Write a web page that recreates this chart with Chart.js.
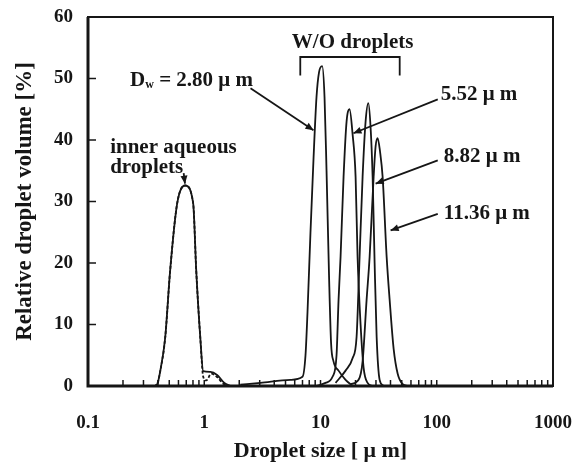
<!DOCTYPE html>
<html>
<head>
<meta charset="utf-8">
<script src="https://cdn.jsdelivr.net/npm/chart.js@4.4.1/dist/chart.umd.min.js"></script>
<style>
  html, body { margin: 0; padding: 0; background: #fff; }
  #box { width: 580px; height: 466px; }
</style>
</head>
<body>
<div id="box"><canvas id="grafico" width="580" height="466"></canvas></div>
<script>
// Droplet size [um] and relative droplet volume [%]

// inner aqueous droplets (solid and dashed trace)
const innerX = [0.37, 0.394, 0.418, 0.461, 0.509, 0.585, 0.685, 0.803, 0.853, 0.925, 0.98, 1.13, 1.29, 1.49, 1.68];
const innerY = [0, 0.3, 2.4, 7.8, 18.8, 29.7, 32.6, 29.7, 18.8, 7.8, 2.4, 2.3, 1.8, 0.5, 0];
const innerDashX = [0.37, 0.394, 0.418, 0.461, 0.509, 0.585, 0.685, 0.803, 0.853, 0.925, 0.98, 1.04, 1.15, 1.3, 1.45, 1.62];
const innerDashY = [0, 0.3, 2.4, 7.8, 18.8, 29.7, 32.6, 29.7, 18.8, 7.8, 1.5, 0.9, 2.0, 1.4, 0.4, 0];

// W/O droplets, Dw = 2.80 um
const w280X = [2.04, 3.04, 5.51, 7.0, 7.43, 7.73, 8.2, 8.71, 9.24, 9.71, 10.34, 10.83, 11.27, 11.84, 12.33, 12.94, 14.3, 16.43, 18.87];
const w280Y = [0.2, 0.5, 1.0, 1.5, 5, 12, 25, 37, 47, 51, 52, 47, 35, 18, 7, 4, 2.5, 1.0, 0];
// 5.52 um
const w552X = [9.24, 11.04, 12.69, 13.74, 14.3, 14.88, 15.79, 16.76, 17.78, 18.87, 20.04, 20.84, 22.12, 23.48, 25.42, 28.08];
const w552Y = [0, 0.5, 1.5, 5, 14, 21, 34, 43, 45, 41, 34, 21, 10, 3, 0.5, 0];
// 8.82 um
const w882X = [13.47, 16.43, 18.87, 20.44, 21.69, 23.02, 24.43, 25.78, 26.98, 28.08, 29.21, 30.4, 32.26, 34.92];
const w882Y = [0.5, 2.5, 4.5, 8, 21, 34, 43, 46, 42, 34, 20, 8, 1, 0];
// 11.36 um
const w1136X = [18.14, 21.27, 23.02, 24.92, 26.46, 28.64, 29.8, 31.0, 32.58, 34.23, 37.07, 39.34, 42.6, 46.12, 50.92, 56.23];
const w1136Y = [0.3, 1, 4, 14, 21, 34, 39, 40.3, 38, 34, 21, 14, 6, 2, 0.3, 0];

// ticks
const decadi = [0.1, 1, 10, 100, 1000];
const minori = [2, 3, 4, 5, 6, 7, 8, 9];

// testi e frecce (in unità dei dati)
const etichette = [
    { testo: 'W/O droplets', x: 18.9, y: 55.8, align: 'center' },
    { testo: 'inner aqueous', x: 0.155, y: 38.8, align: 'left' },
    { testo: 'droplets', x: 0.155, y: 35.5, align: 'left' },
    { testo: '5.52 \u03bc m', x: 108, y: 47.4, align: 'left' },
    { testo: '8.82 \u03bc m', x: 115, y: 37.3, align: 'left' },
    { testo: '11.36 \u03bc m', x: 115, y: 28.0, align: 'left' }
];
const frecce = [
    { da: [2.5, 48.4], a: [8.7, 41.6] },
    { da: [102, 46.6], a: [19.2, 41.1] },
    { da: [102, 36.7], a: [29.8, 32.9] },
    { da: [102, 28.0], a: [40.1, 25.3] },
    { da: [0.665, 34.6], a: [0.683, 32.9] }
];

const FONT = '"Liberation Serif", "Times New Roman", serif';
const NERO = '#161616';

function serie(xs, ys) {
    return xs.map((v, i) => ({ x: v, y: ys[i] }));
}

function curva(xs, ys, dash) {
    return {
        data: serie(xs, ys),
        borderColor: NERO,
        borderWidth: 1.8,
        borderDash: dash || [],
        pointRadius: 0,
        fill: false,
        cubicInterpolationMode: 'monotone'
    };
}

function freccia(ctx, x1, y1, x2, y2) {
    ctx.beginPath();
    ctx.moveTo(x1, y1);
    ctx.lineTo(x2, y2);
    ctx.stroke();
    const ang = Math.atan2(y2 - y1, x2 - x1);
    const L = 8, W = 3.5;
    ctx.beginPath();
    ctx.moveTo(x2, y2);
    ctx.lineTo(x2 - L * Math.cos(ang) + W * Math.sin(ang), y2 - L * Math.sin(ang) - W * Math.cos(ang));
    ctx.lineTo(x2 - L * Math.cos(ang) - W * Math.sin(ang), y2 - L * Math.sin(ang) + W * Math.cos(ang));
    ctx.closePath();
    ctx.fill();
}

const extra = {
    id: 'extra',
    afterDatasetsDraw(chart) {
        const { ctx, chartArea: a, scales: { x, y } } = chart;
        ctx.save();
        ctx.strokeStyle = NERO;
        ctx.fillStyle = NERO;

        // cornice
        ctx.lineWidth = 2;
        ctx.strokeRect(a.left, a.top, a.right - a.left, a.bottom - a.top);
        ctx.lineWidth = 3;
        ctx.beginPath();
        ctx.moveTo(a.left, a.top);
        ctx.lineTo(a.left, a.bottom);
        ctx.lineTo(a.right, a.bottom);
        ctx.stroke();

        // tacche interne
        ctx.lineWidth = 1.5;
        x.ticks.forEach(t => {
            const px = x.getPixelForValue(t.value);
            if (px <= a.left + 2 || px >= a.right - 2) return;
            ctx.beginPath();
            ctx.moveTo(px, a.bottom);
            ctx.lineTo(px, a.bottom - 6);
            ctx.stroke();
        });
        y.ticks.forEach(t => {
            const py = y.getPixelForValue(t.value);
            if (py >= a.bottom - 2 || py <= a.top + 2) return;
            ctx.beginPath();
            ctx.moveTo(a.left, py);
            ctx.lineTo(a.left + 8, py);
            ctx.stroke();
        });

        // parentesi W/O
        ctx.lineWidth = 1.8;
        const bx1 = x.getPixelForValue(6.7), bx2 = x.getPixelForValue(48);
        const by1 = y.getPixelForValue(53.5), by2 = y.getPixelForValue(50.5);
        ctx.beginPath();
        ctx.moveTo(bx1, by2);
        ctx.lineTo(bx1, by1);
        ctx.lineTo(bx2, by1);
        ctx.lineTo(bx2, by2);
        ctx.stroke();

        // frecce
        frecce.forEach(f => {
            freccia(ctx, x.getPixelForValue(f.da[0]), y.getPixelForValue(f.da[1]),
                x.getPixelForValue(f.a[0]), y.getPixelForValue(f.a[1]));
        });

        // testi
        ctx.textBaseline = 'middle';
        ctx.font = 'bold 21px ' + FONT;
        etichette.forEach(e => {
            ctx.textAlign = e.align;
            ctx.fillText(e.testo, x.getPixelForValue(e.x), y.getPixelForValue(e.y));
        });

        // D_w = 2.80 um
        ctx.textAlign = 'left';
        let px = x.getPixelForValue(0.23);
        const py = y.getPixelForValue(49.7);
        ctx.fillText('D', px, py);
        px += ctx.measureText('D').width;
        ctx.font = 'bold 12px ' + FONT;
        ctx.fillText('w', px, py + 5);
        px += ctx.measureText('w').width;
        ctx.font = 'bold 21px ' + FONT;
        ctx.fillText(' = 2.80 \u03bc m', px, py);

        ctx.restore();
    }
};

new Chart(document.getElementById('grafico').getContext('2d'), {
    type: 'line',
    data: {
        datasets: [
            curva(innerX, innerY),
            curva(innerDashX, innerDashY, [3, 2]),
            curva(w280X, w280Y),
            curva(w552X, w552Y),
            curva(w882X, w882Y),
            curva(w1136X, w1136Y)
        ]
    },
    options: {
        responsive: false,
        animation: false,
        devicePixelRatio: 1,
        layout: { padding: { left: 0, right: 27, top: 17, bottom: 0 } },
        plugins: {
            legend: { display: false },
            tooltip: { enabled: false }
        },
        scales: {
            x: {
                type: 'logarithmic',
                min: 0.1,
                max: 1000,
                afterBuildTicks: scale => {
                    const valori = [];
                    decadi.forEach((d, i) => {
                        valori.push(d);
                        if (i < decadi.length - 1) minori.forEach(m => valori.push(+(d * m).toPrecision(3)));
                    });
                    scale.ticks = valori.map(v => ({ value: v }));
                },
                afterFit: scale => {
                    scale.height = 80;
                    scale.paddingLeft = 0;
                    scale.paddingRight = 0;
                },
                grid: { display: false, drawTicks: false },
                border: { display: false },
                ticks: {
                    autoSkip: false,
                    maxRotation: 0,
                    padding: 26,
                    color: NERO,
                    font: { family: FONT, size: 19, weight: 'bold' },
                    callback: v => decadi.includes(v) ? String(v) : ''
                },
                title: {
                    display: true,
                    text: 'Droplet size [ \u03bc m]',
                    color: NERO,
                    font: { family: FONT, size: 22, weight: 'bold' },
                    padding: { top: 0, bottom: 1 }
                }
            },
            y: {
                min: 0,
                max: 60,
                afterFit: scale => {
                    scale.width = 88;
                    scale.paddingTop = 0;
                    scale.paddingBottom = 0;
                },
                grid: { display: false, drawTicks: false },
                border: { display: false },
                ticks: {
                    stepSize: 10,
                    padding: 15,
                    color: NERO,
                    font: { family: FONT, size: 19, weight: 'bold' }
                },
                title: {
                    display: true,
                    text: 'Relative droplet volume [%]',
                    color: NERO,
                    font: { family: FONT, size: 23, weight: 'bold' },
                    padding: { top: 11, bottom: 0 }
                }
            }
        }
    },
    plugins: [extra]
});
</script>
</body>
</html>
